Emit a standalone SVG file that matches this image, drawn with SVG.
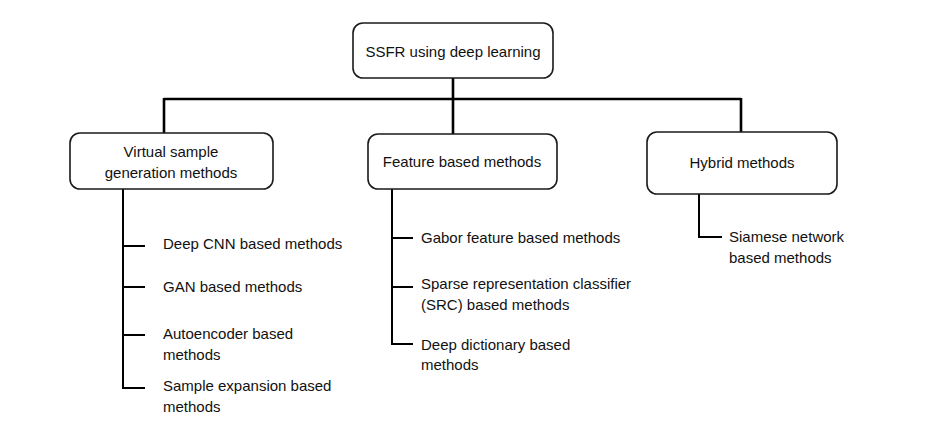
<svg xmlns="http://www.w3.org/2000/svg" width="945" height="434" viewBox="0 0 945 434">
<style>
.box{fill:#fff;stroke:#1a1a1a;stroke-width:1.6}
.t{font-family:"Liberation Sans",Arial,sans-serif;font-size:15px;fill:#111}
.c{text-anchor:middle}
.main{fill:none;stroke:#000;stroke-width:2.6}
.sub{fill:none;stroke:#000;stroke-width:2}
</style>
<rect width="945" height="434" fill="#fff"/>
<g id="connectors">
<path class="main" d="M453,78 V99 M164,99 H741 M164,98 V133 M453,99 V134 M741,98 V132"/>
<path class="sub" d="M123,189 V388 H145 M123,246 H145 M123,287 H145 M123,335 H145"/>
<path class="sub" d="M392,189 V344 H413 M392,238 H413 M392,287 H413"/>
<path class="sub" d="M699,194 V237 H722"/>
</g>
<g id="root">
<rect class="box" x="353" y="23" width="200" height="55" rx="10"/>
<text class="t c" x="453" y="57">SSFR using deep learning</text>
</g>
<g id="virtual">
<rect class="box" x="70" y="133" width="203" height="56" rx="10"/>
<text class="t c" x="171" y="157">Virtual sample</text>
<text class="t c" x="171" y="178">generation methods</text>
</g>
<g id="feature">
<rect class="box" x="368" y="134" width="189" height="55" rx="10"/>
<text class="t c" x="462" y="167">Feature based methods</text>
</g>
<g id="hybrid">
<rect class="box" x="647" y="132" width="190" height="62" rx="10"/>
<text class="t c" x="742" y="168">Hybrid methods</text>
</g>
<g id="deepcnn"><text class="t" x="163" y="249">Deep CNN based methods</text></g>
<g id="gan"><text class="t" x="163" y="292">GAN based methods</text></g>
<g id="autoencoder"><text class="t" x="163" y="339">Autoencoder based</text><text class="t" x="163" y="360">methods</text></g>
<g id="sampleexp"><text class="t" x="163" y="391">Sample expansion based</text><text class="t" x="163" y="412">methods</text></g>
<g id="gabor"><text class="t" x="421" y="243">Gabor feature based methods</text></g>
<g id="src"><text class="t" x="421" y="289">Sparse representation classifier</text><text class="t" x="421" y="310">(SRC) based methods</text></g>
<g id="dict"><text class="t" x="421" y="350">Deep dictionary based</text><text class="t" x="421" y="370">methods</text></g>
<g id="siamese"><text class="t" x="729" y="242">Siamese network</text><text class="t" x="729" y="263">based methods</text></g>
</svg>
